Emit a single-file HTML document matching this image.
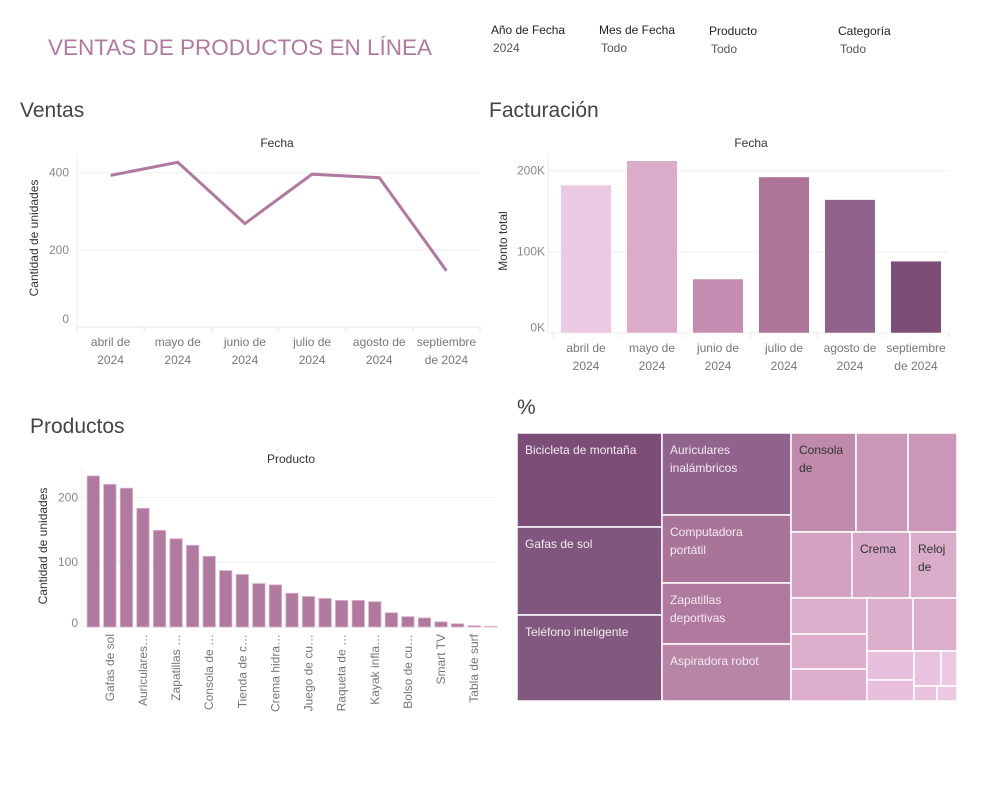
<!DOCTYPE html>
<html><head><meta charset="utf-8">
<style>
html,body{margin:0;padding:0;background:#fff;}
body{width:999px;height:799px;overflow:hidden;font-family:"Liberation Sans",sans-serif;}
svg text{font-family:"Liberation Sans",sans-serif;}
</style></head>
<body>
<svg id="root" width="999" height="799" viewBox="0 0 999 799">
  <text x="48" y="55" font-size="22" fill="#b07a9f" textLength="384" lengthAdjust="spacingAndGlyphs">VENTAS DE PRODUCTOS EN LÍNEA</text>

  <g>
    <text x="491" y="34" font-size="12" fill="#222" textLength="74" lengthAdjust="spacingAndGlyphs">Año de Fecha</text>
    <text x="493" y="52" font-size="12" fill="#555">2024</text>
  </g>
  <g>
    <text x="599" y="34" font-size="12" fill="#222" textLength="76" lengthAdjust="spacingAndGlyphs">Mes de Fecha</text>
    <text x="601" y="52" font-size="12" fill="#555">Todo</text>
  </g>
  <g>
    <text x="709" y="35" font-size="12" fill="#222">Producto</text>
    <text x="711" y="53" font-size="12" fill="#555">Todo</text>
  </g>
  <g>
    <text x="838" y="35" font-size="12" fill="#222">Categoría</text>
    <text x="840" y="53" font-size="12" fill="#555">Todo</text>
  </g>

  <text x="20" y="117" font-size="21" fill="#444">Ventas</text>
  <text x="489" y="117" font-size="21" fill="#444">Facturación</text>
  <text x="30" y="433" font-size="21" fill="#444">Productos</text>
  <text x="517" y="414" font-size="21" fill="#444">%</text>

  <g id="line-chart"></g>
  <g id="bar-chart"></g>
  <g id="prod-chart"></g>
  <g id="treemap"></g>
</svg>
<script>
// ---------- data ----------
const months1 = ["abril de", "mayo de", "junio de", "julio de", "agosto de", "septiembre"];
const months2 = ["2024", "2024", "2024", "2024", "2024", "de 2024"];
const unitsByMonth = [393, 427, 268, 396, 387, 146];
const lineTicks = [0, 200, 400];
const revenueByMonth = [182000, 212000, 66000, 192000, 164000, 88000];
const revenueTicks = [0, 100000, 200000];
const revenueTickLabels = ["0K", "100K", "200K"];
const revenueColors = ["#ecc9e3", "#dbabca", "#c68db2", "#ad7699", "#90638c", "#7b4d77"];
const products = ["Bicicleta de montaña", "Gafas de sol", "Teléfono inteligente", "Auriculares inalámbricos", "Computadora portátil", "Zapatillas deportivas", "Aspiradora robot", "Consola de videojuegos", "Reloj inteligente", "Tienda de campaña", "Cafetera", "Crema hidratante", "Lámpara LED", "Juego de cubiertos", "Mochila", "Raqueta de tenis", "Libro", "Kayak inflable", "Balón", "Bolso de cuero", "Perfume", "Smart TV", "Tableta", "Tabla de surf", "Cargador"];
const productUnits = [233, 220, 214, 183, 149, 136, 126, 109, 87, 81, 67, 65, 52, 47, 44, 41, 41, 39, 22, 16, 14, 8, 5, 2, 1];
const productTicks = [0, 100, 200];
// treemap: nested areas (leaf = number)
const treeValues = [
  [13630, 12760, 12470],
  [10578, 8772, 7869, 7353],
  [[6435, 5148, 4851], [4026, 3828, 3102],
   [[2736, 2660, 2432], [[2438, 2332], [[1363, 987], [[945, 560], [345, 300]]]]]]
];
const treeLabels = ["Bicicleta de montaña", "Gafas de sol", "Teléfono inteligente", "Auriculares|inalámbricos", "Computadora|portátil", "Zapatillas|deportivas", "Aspiradora robot", "Consola|de", "", "", "", "Crema", "Reloj|de"];
const treeColors = ["#7b4d77", "#80567f", "#83587f", "#90638c", "#a87598", "#b07a9f", "#b785a5", "#c08aab", "#c997b7", "#cb97b8", "#d3a1c2", "#d5a5c5", "#d9acca", "#ddafcd", "#ddafcd", "#ddafcd", "#ddafcd", "#ddafcd", "#e8bfdc", "#e8bfdc", "#e8c2de", "#ecc9e3", "#e8c2de", "#ecc9e3"];

const NS = "http://www.w3.org/2000/svg";
function mk(tag, attrs, parent, txt) {
  const e = document.createElementNS(NS, tag);
  for (const k in attrs) e.setAttribute(k, attrs[k]);
  if (txt !== undefined) e.textContent = txt;
  parent.appendChild(e);
  return e;
}

// ---------- line chart ----------
(function () {
  const g = document.getElementById("line-chart");
  const L = 77, R = 480, T = 153, B = 327;
  const y = v => B - v / 400 * (B - 172.7);
  const bw = (R - L) / months1.length;
  const x = i => L + bw * (i + 0.5);
  let t = mk("text", {x: 277, y: 147, "font-size": 12, fill: "#333", "text-anchor": "middle"}, g, "Fecha");
  
  
  lineTicks.forEach(v => {
    const yy = y(v);
    let gl = mk("line", {x1: L, x2: R, y1: yy, y2: yy, stroke: v === 0 ? "#e6e6e6" : "#efefef"}, g);
    
    
    let tl = mk("text", {x: 69, y: (v === 0 ? yy - 8 : yy) + 4, "font-size": 12, fill: "#888", "text-anchor": "end"}, g, String(v));
    
    
  });
  mk("line", {x1: L, x2: L, y1: T, y2: B, stroke: "#eee"}, g);
  for (let i = 0; i <= months1.length; i++) mk("line", {x1: L + bw * i, x2: L + bw * i, y1: B, y2: B + 5, stroke: "#e6e6e6"}, g);
  months1.forEach((m, i) => {
    let a = mk("text", {x: x(i), y: 346, "font-size": 12, fill: "#777", "text-anchor": "middle"}, g, m);
    
    
    let b = mk("text", {x: x(i), y: 364, "font-size": 12, fill: "#777", "text-anchor": "middle"}, g, months2[i]);
    
    
  });
  const yt = mk("text", {x: 0, y: 0, "font-size": 12, fill: "#333", "text-anchor": "middle", transform: "translate(38,238) rotate(-90)"}, g, "Cantidad de unidades");
  
  
  const pts = unitsByMonth.map((v, i) => x(i).toFixed(1) + "," + y(v).toFixed(1)).join(" ");
  const pl = mk("polyline", {points: pts, fill: "none", stroke: "#b07a9f", "stroke-width": 3, "stroke-linejoin": "miter"}, g);
  
  
})();

// ---------- revenue bars ----------
(function () {
  const g = document.getElementById("bar-chart");
  const L = 553, R = 949, T = 153, B = 332.7;
  const y = v => B - v / 100000 * 81;
  const bw = (R - L) / months1.length;
  const x = i => L + bw * (i + 0.5);
  let t = mk("text", {x: 751, y: 147, "font-size": 12, fill: "#333", "text-anchor": "middle"}, g, "Fecha");
  
  
  revenueTicks.forEach((v, k) => {
    const yy = y(v);
    let gl = mk("line", {x1: 548, x2: R, y1: yy, y2: yy, stroke: "#efefef"}, g);
    
    
    let tl = mk("text", {x: 545, y: (v === 0 ? yy - 5 : yy) + 4, "font-size": 12, fill: "#888", "text-anchor": "end"}, g, revenueTickLabels[k]);
    
    
  });
  mk("line", {x1: 548, x2: 548, y1: T, y2: B, stroke: "#eee"}, g);
  for (let i = 0; i <= months1.length; i++) mk("line", {x1: L + bw * i, x2: L + bw * i, y1: B, y2: B + 5, stroke: "#e6e6e6"}, g);
  revenueByMonth.forEach((v, i) => {
    const r = mk("rect", {x: x(i) - 25, y: y(v), width: 50, height: B - y(v), fill: revenueColors[i]}, g);
    
    
  });
  months1.forEach((m, i) => {
    let a = mk("text", {x: x(i), y: 352, "font-size": 12, fill: "#777", "text-anchor": "middle"}, g, m);
    
    
    let b = mk("text", {x: x(i), y: 370, "font-size": 12, fill: "#777", "text-anchor": "middle"}, g, months2[i]);
    
    
  });
  const yt = mk("text", {x: 0, y: 0, "font-size": 12, fill: "#333", "text-anchor": "middle", transform: "translate(507,241) rotate(-90)"}, g, "Monto total");
  
  
})();

// ---------- products bars ----------
(function () {
  const g = document.getElementById("prod-chart");
  const L = 82, R = 496, T = 468, B = 627;
  const y = v => B - v / 200 * (B - 497.3);
  const bw = (R - L) / products.length;
  const x = i => L + bw * (i + 0.5) + 3;
  let t = mk("text", {x: 291, y: 463, "font-size": 12, fill: "#333", "text-anchor": "middle"}, g, "Producto");
  
  
  productTicks.forEach(v => {
    const yy = y(v);
    let gl = mk("line", {x1: L, x2: R, y1: yy, y2: yy, stroke: "#efefef"}, g);
    
    
    let tl = mk("text", {x: 78, y: (v === 0 ? yy - 4 : yy) + 4, "font-size": 12, fill: "#888", "text-anchor": "end"}, g, String(v));
    
    
  });
  mk("line", {x1: L, x2: L, y1: T, y2: B, stroke: "#eee"}, g);
  productUnits.forEach((v, i) => {
    const r = mk("rect", {x: x(i) - 6.2, y: y(v), width: 12.4, height: Math.max(0.5, B - y(v)), fill: "#b07a9f", stroke: "#dcb0cd", "stroke-width": 0.8}, g);
    
    
  });
  products.forEach((p, i) => {
    if (i % 2 !== 1) return;
    const lbl = p.length > 13 ? p.slice(0, 11) + "…" : p;
    const tl = mk("text", {x: 0, y: 0, "font-size": 12, fill: "#777", "text-anchor": "end", transform: "translate(" + (x(i) + 4) + ",634) rotate(-90)"}, g, lbl);
    
    
  });
  const yt = mk("text", {x: 0, y: 0, "font-size": 12, fill: "#333", "text-anchor": "middle", transform: "translate(47,546) rotate(-90)"}, g, "Cantidad de unidades");
  
  
})();

// ---------- treemap ----------
(function () {
  const g = document.getElementById("treemap");
  const sum = n => typeof n === "number" ? n : n.reduce((a, c) => a + sum(c), 0);
  let leaf = 0;
  function lay(node, x, y, w, h, depth) {
    if (typeof node === "number") {
      const idx = leaf++;
      const r = mk("rect", {x: x, y: y, width: w, height: h, fill: treeColors[idx] || "#e8c2de", stroke: "#fff", "stroke-width": 1.5}, g);
      
      
      const lab = treeLabels[idx];
      if (lab) {
        const dark = idx >= 7;
        lab.split("|").forEach((ln, k) => {
          const t = mk("text", {x: x + 8, y: y + 21 + k * 18, "font-size": 12, fill: dark ? "#333" : "#f4eaf1"}, g, ln);
          
          
        });
      }
      return;
    }
    const tot = sum(node);
    let off = 0;
    node.forEach(c => {
      const f = sum(c) / tot;
      if (depth % 2 === 0) { lay(c, x + off * w, y, f * w, h, depth + 1); }
      else { lay(c, x, y + off * h, w, f * h, depth + 1); }
      off += f;
    });
  }
  lay(treeValues, 517, 433, 440, 268, 0);
})();
</script>
</body></html>
